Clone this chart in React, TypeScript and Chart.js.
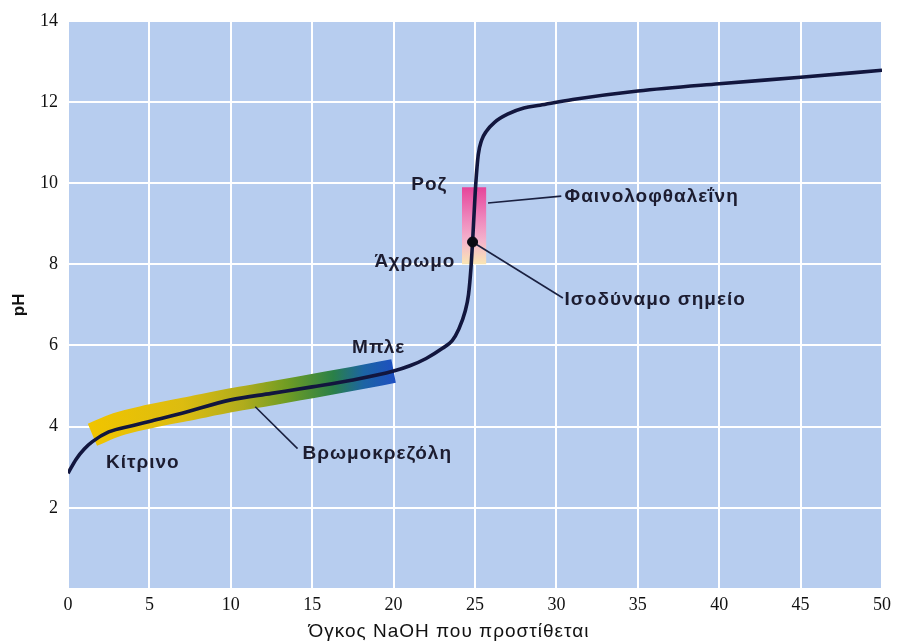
import React, { useEffect, useRef } from "react";
import { Chart, registerables } from "chart.js";

Chart.register(...registerables);

// Titration curve (volume NaOH in mL, pH)
const CURVE_X = [0, 0.5, 1, 1.5, 2.5, 4, 5, 7, 10, 12.5, 15, 17.5, 20, 21, 22, 23, 23.6, 24.0, 24.4, 24.6, 24.75, 24.85, 24.95, 25.05, 25.2, 25.4, 25.7, 26.2, 27, 28, 29, 31, 35, 40, 45, 50];
const CURVE_Y = [2.85, 3.2, 3.45, 3.63, 3.87, 4.03, 4.13, 4.33, 4.66, 4.82, 4.98, 5.15, 5.37, 5.5, 5.68, 5.93, 6.12, 6.4, 6.85, 7.25, 7.9, 8.55, 9.3, 10.0, 10.7, 11.05, 11.28, 11.5, 11.7, 11.85, 11.92, 12.06, 12.27, 12.45, 12.61, 12.78];

// Bromocresol green colour band
const BAND_X = [1.5, 3, 5, 7.5, 10, 12.5, 15, 17.5, 20];
const BAND_Y = [3.8, 4.05, 4.25, 4.45, 4.65, 4.82, 5.0, 5.18, 5.37];

// Phenolphthalein range box
const BOX_X = [24.2, 25.7];
const BOX_Y = [8, 9.9];

// Equivalence point
const EQUIV_X = [24.85];
const EQUIV_Y = [8.55];

// Leader lines [x0, y0, x1, y1]
const LEADER_BROM = [11.5, 4.49, 14.1, 3.46];
const LEADER_PHEN = [25.8, 9.51, 30.3, 9.68];
const LEADER_EQUIV = [24.85, 8.55, 30.4, 7.17];

// Text labels
const LABEL_TEXT = ["Ροζ", "Άχρωμο", "Φαινολοφθαλεΐνη", "Ισοδύναμο σημείο", "Μπλε", "Κίτρινο", "Βρωμοκρεζόλη"];
const LABEL_X = [23.3, 23.8, 30.5, 30.5, 17.45, 2.33, 14.4];
const LABEL_Y = [9.95, 8.07, 9.66, 7.12, 5.95, 3.1, 3.32];
const LABEL_ALIGN = ["right", "right", "left", "left", "left", "left", "left"];

const X_MIN = 0, X_MAX = 50, X_STEP = 5;
const Y_MIN = 0, Y_MAX = 14, Y_STEP = 2;
const X_TITLE = "Όγκος NaOH που προστίθεται";
const Y_TITLE = "pH";

const pts = (xs: number[], ys: number[]) => xs.map((x, i) => ({ x, y: ys[i] }));
const seg = (s: number[]) => [{ x: s[0], y: s[1] }, { x: s[2], y: s[3] }];

const bgPlugin = {
  id: "bgPlugin",
  beforeDraw(chart: any) {
    const { ctx, chartArea } = chart;
    if (!chartArea) return;
    ctx.save();
    ctx.fillStyle = "#b7cdef";
    ctx.fillRect(chartArea.left, chartArea.top, chartArea.right - chartArea.left, chartArea.bottom - chartArea.top);
    ctx.restore();
  },
};

const labelPlugin = {
  id: "labelPlugin",
  afterDatasetsDraw(chart: any) {
    const { ctx } = chart;
    const xs = chart.scales.x;
    const ys = chart.scales.y;
    ctx.save();
    ctx.fillStyle = "#1c1c30";
    ctx.font = 'bold 19px "Liberation Sans", Arial, sans-serif';
    (ctx as any).letterSpacing = "1px";
    ctx.textBaseline = "middle";
    LABEL_TEXT.forEach((t, i) => {
      ctx.textAlign = LABEL_ALIGN[i];
      ctx.fillText(t, xs.getPixelForValue(LABEL_X[i]), ys.getPixelForValue(LABEL_Y[i]));
    });
    // x axis title
    ctx.fillStyle = "#111";
    ctx.font = '19px "Liberation Sans", Arial, sans-serif';
    (ctx as any).letterSpacing = "1px";
    ctx.textAlign = "center";
    ctx.fillText(X_TITLE, xs.getPixelForValue(23.4), chart.height - 9);
    ctx.restore();
  },
};

export default function App() {
  const ref = useRef<HTMLCanvasElement | null>(null);
  useEffect(() => {
    if (!ref.current) return;
    const bandColor = (c: any) => {
      const ch = c.chart;
      if (!ch.chartArea) return "#e0c000";
      const xs = ch.scales.x;
      const g = ch.ctx.createLinearGradient(xs.getPixelForValue(BAND_X[0]), 0, xs.getPixelForValue(BAND_X[BAND_X.length - 1]), 0);
      g.addColorStop(0, "#f0c400");
      g.addColorStop(0.3, "#dcbc10");
      g.addColorStop(0.5, "#b0ac1c");
      g.addColorStop(0.65, "#6e9c24");
      g.addColorStop(0.8, "#2a8048");
      g.addColorStop(0.9, "#1c64a4");
      g.addColorStop(1, "#1e50c0");
      return g;
    };
    const boxColor = (c: any) => {
      const ch = c.chart;
      if (!ch.chartArea) return "#f0a0c8";
      const ys = ch.scales.y;
      const g = ch.ctx.createLinearGradient(0, ys.getPixelForValue(BOX_Y[1]), 0, ys.getPixelForValue(BOX_Y[0]));
      g.addColorStop(0, "#e6449a");
      g.addColorStop(0.4, "#ee86bc");
      g.addColorStop(0.7, "#f4b4cc");
      g.addColorStop(1, "#fae6b4");
      return g;
    };
    const leader = (s: number[]) => ({
      data: seg(s),
      borderColor: "#1a2040",
      borderWidth: 1.6,
      pointRadius: 0,
      tension: 0,
      fill: false,
      order: 1,
    });
    const chart = new Chart(ref.current, {
      type: "line",
      data: {
        datasets: [
          {
            data: pts(EQUIV_X, EQUIV_Y),
            showLine: false,
            pointRadius: 5,
            pointBackgroundColor: "#0a0a14",
            pointBorderColor: "#0a0a14",
            order: 0,
          } as any,
          {
            data: pts(CURVE_X, CURVE_Y),
            borderColor: "#12163e",
            borderWidth: 3.6,
            pointRadius: 0,
            cubicInterpolationMode: "monotone",
            fill: false,
            order: 1,
          },
          leader(LEADER_BROM),
          leader(LEADER_PHEN),
          leader(LEADER_EQUIV),
          {
            data: [{ x: BOX_X[0], y: BOX_Y[1] }, { x: BOX_X[1], y: BOX_Y[1] }],
            borderColor: "rgba(0,0,0,0)",
            borderWidth: 1,
            pointRadius: 0,
            tension: 0,
            fill: "+1",
            backgroundColor: boxColor,
            order: 2,
          },
          {
            data: [{ x: BOX_X[0], y: BOX_Y[0] }, { x: BOX_X[1], y: BOX_Y[0] }],
            borderColor: "rgba(0,0,0,0)",
            borderWidth: 1,
            pointRadius: 0,
            tension: 0,
            fill: false,
            order: 2,
          },
          {
            data: pts(BAND_X, BAND_Y),
            borderColor: bandColor,
            borderWidth: 24,
            borderCapStyle: "butt",
            pointRadius: 0,
            cubicInterpolationMode: "monotone",
            fill: false,
            order: 3,
          },
        ] as any,
      },
      options: {
        animation: false,
        responsive: false,
        devicePixelRatio: 1,
        layout: { padding: { top: 15, right: 15, left: 0, bottom: 0 } },
        plugins: { legend: { display: false }, tooltip: { enabled: false } },
        scales: {
          x: {
            type: "linear",
            min: X_MIN,
            max: X_MAX,
            ticks: {
              stepSize: X_STEP,
              color: "#111",
              padding: 5,
              font: { family: '"Liberation Serif", "Times New Roman", serif', size: 18 },
            },
            grid: { color: "#ffffff", lineWidth: 2, drawTicks: false },
            border: { display: false },
            afterFit: (s: any) => { s.height = 52; },
          },
          y: {
            type: "linear",
            min: Y_MIN,
            max: Y_MAX,
            ticks: {
              stepSize: Y_STEP,
              color: "#111",
              padding: 10,
              font: { family: '"Liberation Serif", "Times New Roman", serif', size: 18 },
              callback: (v: any) => (v === 0 ? "" : String(v)),
            },
            title: {
              display: true,
              text: Y_TITLE,
              color: "#111",
              font: { family: '"Liberation Sans", Arial, sans-serif', size: 17, weight: "bold" },
              padding: { top: 9, bottom: 0 },
            },
            grid: { color: "#ffffff", lineWidth: 2, drawTicks: false },
            border: { display: false },
            afterFit: (s: any) => { s.width = 68; },
          },
        },
      } as any,
      plugins: [bgPlugin, labelPlugin],
    });
    return () => chart.destroy();
  }, []);
  return (
    <div style={{ position: "fixed", left: 0, top: 0, width: 897, height: 641, background: "#fff" }}>
      <canvas ref={ref} width={897} height={641} style={{ display: "block", width: 897, height: 641 }} />
    </div>
  );
}
